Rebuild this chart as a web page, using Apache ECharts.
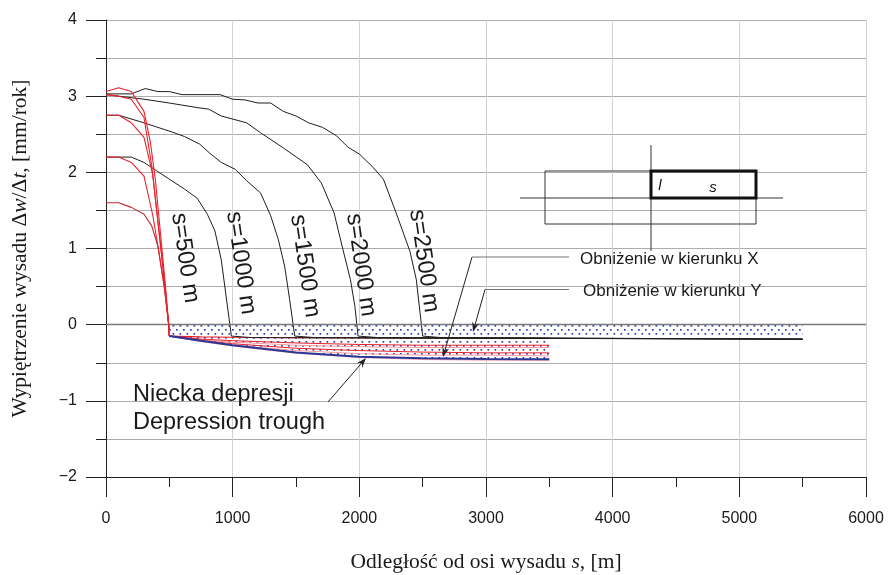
<!DOCTYPE html>
<html><head><meta charset="utf-8">
<script src="https://cdn.jsdelivr.net/npm/echarts@6/dist/echarts.min.js"></script>
<style>html,body{margin:0;padding:0;background:#fff}#main{width:889px;height:575px}</style>
</head><body><div id="main"></div>
<script>
// ---------------- data ----------------
const xTickValues = [0, 1000, 2000, 3000, 4000, 5000, 6000];
const yTickValues = [-2, -1, 0, 1, 2, 3, 4];
const curveLabels = ['s=500 m', 's=1000 m', 's=1500 m', 's=2000 m', 's=2500 m'];

// s = 500 m curves (red), x [m], uplift [mm/rok]
const red500a = [[0,3.06],[100,3.11],[200,3.06],[300,2.80],[350,2.40],[390,1.90],[430,1.20],[470,0.50],[495,0],[500,-0.15]];
const red500b = [[0,3.02],[100,3.00],[200,2.96],[300,2.72],[360,2.10],[400,1.50],[440,0.90],[495,0],[500,-0.15]];
const red500c = [[0,2.75],[100,2.75],[200,2.65],[300,2.46],[370,1.96],[420,1.20],[460,0.60],[495,0],[500,-0.15]];
const red500d = [[0,2.20],[100,2.20],[200,2.13],[300,1.95],[370,1.43],[410,1.03],[460,0.50],[495,0],[500,-0.15]];
const red500e = [[0,1.60],[100,1.60],[200,1.54],[300,1.45],[360,1.30],[410,1.03],[460,0.50],[495,0],[500,-0.15]];

// s = 1000 ... 2500 m curves (black)
const black1000 = [[0,2.20],[200,2.20],[300,2.13],[400,2.02],[500,1.91],[620,1.78],[720,1.66],[800,1.45],[860,1.23],[910,0.85],[950,0.35],[990,-0.15],[1150,-0.17],[5500,-0.19]];
const black1500 = [[0,2.75],[100,2.75],[300,2.65],[410,2.59],[520,2.53],[620,2.47],[740,2.37],[820,2.25],[910,2.13],[1020,2.04],[1110,1.89],[1220,1.73],[1300,1.43],[1360,1.12],[1410,0.77],[1450,0.33],[1490,-0.15],[1650,-0.17],[5500,-0.19]];
const black2000 = [[0,3.02],[300,2.96],[500,2.91],[720,2.85],[810,2.83],[910,2.74],[1110,2.65],[1220,2.52],[1400,2.32],[1590,2.10],[1700,1.86],[1800,1.47],[1870,0.99],[1930,0.59],[1965,0.24],[1990,-0.15],[2150,-0.17],[5500,-0.19]];
const black2500 = [[0,3.03],[200,3.03],[310,3.10],[410,3.06],[500,3.06],[600,3.02],[900,3.02],[1000,2.96],[1100,2.95],[1200,2.91],[1300,2.91],[1400,2.80],[1500,2.74],[1600,2.65],[1710,2.59],[1820,2.48],[1910,2.33],[2000,2.24],[2100,2.08],[2190,1.91],[2290,1.47],[2400,0.96],[2450,0.59],[2500,-0.15],[2650,-0.17],[5500,-0.19]];

// uplift band beyond the trough (dotted)
const bandX = [500, 5500];
const bandTop = 0;
const bandBottom = -0.16;

// depression trough fan (x values shared)
const fanX     = [500, 750, 1000, 1500, 2000, 2500, 3000, 3500];
const fanRed1  = [-0.15,-0.16,-0.165,-0.17,-0.17,-0.175,-0.175,-0.175];
const fanRed2  = [-0.15,-0.19,-0.21,-0.24,-0.26,-0.27,-0.27,-0.27];
const fanPink1 = [-0.15,-0.20,-0.23,-0.27,-0.29,-0.30,-0.30,-0.30];
const fanRed3  = [-0.15,-0.21,-0.25,-0.31,-0.34,-0.36,-0.37,-0.37];
const fanPink2 = [-0.15,-0.22,-0.27,-0.34,-0.38,-0.40,-0.40,-0.41];
const fanBlue  = [-0.15,-0.21,-0.27,-0.365,-0.42,-0.44,-0.45,-0.455];
const fanPink3 = [-0.15,-0.22,-0.28,-0.375,-0.43,-0.455,-0.465,-0.47];

// ---------------- chart ----------------
const zip = (xs, ys) => xs.map((x, i) => [x, ys[i]]);
function dotPattern() {
  const c = document.createElement('canvas');
  c.width = 7; c.height = 8;
  const g = c.getContext('2d');
  g.fillStyle = '#ffffff'; g.fillRect(0, 0, 7, 8);
  g.fillStyle = '#3040a8';
  g.fillRect(1, 1, 1.7, 1.7);
  g.fillRect(4.5, 5, 1.7, 1.7);
  return { image: c, repeat: 'repeat' };
}
const pattern = dotPattern();

const SANS = "'Liberation Sans', Arial, sans-serif";
const SERIF = "'Liberation Serif', 'Times New Roman', serif";

function lineSeries(name, data, color, width, z) {
  return { name, type: 'line', data, symbol: 'none', smooth: false, silent: true,
    lineStyle: { color, width }, z: z || 3, animation: false };
}

const chart = echarts.init(document.getElementById('main'), null, { renderer: 'canvas' });

function polygonSeries(upperPts, lowerPts, z) {
  return {
    type: 'custom', silent: true, z, animation: false, clip: true,
    data: [[upperPts[0][0], upperPts[0][1]]],
    encode: { x: 0, y: 1 },
    renderItem: (params, api) => {
      const pts = upperPts.concat(lowerPts.slice().reverse()).map(p => api.coord(p));
      return { type: 'polygon', shape: { points: pts }, style: { fill: pattern, stroke: null } };
    }
  };
}

const bandUpper = [[bandX[0], bandTop], [bandX[1], bandTop]];
const bandLower = [[bandX[0], bandBottom], [bandX[1], bandBottom]];

function arrow(x1, y1, x2, y2) {
  const a = Math.atan2(y2 - y1, x2 - x1);
  const L = 10, W = 3.6;
  const bx = x2 - L * Math.cos(a), by = y2 - L * Math.sin(a);
  const mx = x2 - 0.65 * L * Math.cos(a), my = y2 - 0.65 * L * Math.sin(a);
  const px = -Math.sin(a) * W, py = Math.cos(a) * W;
  return [
    { type: 'line', silent: true, z: 50, shape: { x1, y1, x2: mx, y2: my }, style: { stroke: '#222', lineWidth: 1 } },
    { type: 'polygon', silent: true, z: 50, shape: { points: [[x2, y2], [bx + px, by + py], [mx, my], [bx - px, by - py]] }, style: { fill: '#222' } }
  ];
}

const labelPos = [[185, 258], [241, 263], [305, 266], [361, 265], [424, 261]];
const graphics = [];
curveLabels.forEach((t, i) => {
  graphics.push({ type: 'text', x: labelPos[i][0], y: labelPos[i][1], rotation: -81.5 * Math.PI / 180, z: 60, silent: true,
    style: { text: t, font: '23.5px ' + SANS, fill: '#1a1a1a', align: 'center', verticalAlign: 'middle' } });
});
// inset diagram
graphics.push(
  { type: 'rect', z: 60, silent: true, shape: { x: 545, y: 171, width: 211, height: 53 }, style: { fill: null, stroke: '#333', lineWidth: 1 } },
  { type: 'line', z: 60, silent: true, shape: { x1: 520, y1: 198, x2: 783, y2: 198 }, style: { stroke: '#333', lineWidth: 1 } },
  { type: 'line', z: 60, silent: true, shape: { x1: 651, y1: 145, x2: 651, y2: 251 }, style: { stroke: '#333', lineWidth: 1 } },
  { type: 'rect', z: 61, silent: true, shape: { x: 651, y: 171, width: 105, height: 27 }, style: { fill: null, stroke: '#111', lineWidth: 3 } },
  { type: 'text', z: 61, silent: true, x: 660, y: 186, style: { text: 'l', font: 'italic 15px ' + SANS, fill: '#111', align: 'center', verticalAlign: 'middle' } },
  { type: 'text', z: 61, silent: true, x: 713, y: 188, style: { text: 's', font: 'italic 15px ' + SANS, fill: '#111', align: 'center', verticalAlign: 'middle' } }
);
// legends with leader lines
graphics.push(
  { type: 'line', z: 50, silent: true, shape: { x1: 472, y1: 257, x2: 569, y2: 257 }, style: { stroke: '#777', lineWidth: 1.2 } },
  { type: 'line', z: 50, silent: true, shape: { x1: 485, y1: 289.5, x2: 569, y2: 289.5 }, style: { stroke: '#777', lineWidth: 1.2 } },
  { type: 'text', z: 60, silent: true, x: 580, y: 259, style: { text: 'Obniżenie w kierunku X', font: '17px ' + SANS, fill: '#1a1a1a', align: 'left', verticalAlign: 'middle' } },
  { type: 'text', z: 60, silent: true, x: 583, y: 291, style: { text: 'Obniżenie w kierunku Y', font: '17px ' + SANS, fill: '#1a1a1a', align: 'left', verticalAlign: 'middle' } },
  { type: 'text', z: 60, silent: true, x: 133, y: 395, style: { text: 'Niecka depresji', font: '23.5px ' + SANS, fill: '#1a1a1a', align: 'left', verticalAlign: 'middle' } },
  { type: 'text', z: 60, silent: true, x: 133, y: 423, style: { text: 'Depression trough', font: '23.5px ' + SANS, fill: '#1a1a1a', align: 'left', verticalAlign: 'middle' } }
);
graphics.push(...arrow(472, 257, 443, 357));
graphics.push(...arrow(485, 289.5, 473, 332));
graphics.push(...arrow(328, 402, 366, 358));

const minus = v => String(v).replace('-', '\u2212');

const option = {
  animation: false,
  backgroundColor: '#ffffff',
  grid: { left: 106, right: 23, top: 20, bottom: 98, containLabel: false, outerBoundsMode: 'none' },
  xAxis: {
    type: 'value', min: xTickValues[0], max: xTickValues[xTickValues.length - 1], interval: 1000,
    name: '{a|Odległość od osi wysadu }{b|s}{a|, [m]}',
    nameLocation: 'middle', nameGap: 74,
    nameTextStyle: { rich: {
      a: { fontFamily: SERIF, fontSize: 21.5, color: '#1a1a1a' },
      b: { fontFamily: SERIF, fontSize: 21.5, fontStyle: 'italic', color: '#1a1a1a' } } },
    axisLine: { onZero: false, lineStyle: { color: '#222', width: 1 } },
    axisTick: { show: true, inside: false, length: 20, lineStyle: { color: '#222' } },
    minorTick: { show: true, splitNumber: 2, length: 10, lineStyle: { color: '#222' } },
    axisLabel: { fontFamily: SANS, fontSize: 16, color: '#1a1a1a', margin: 34, formatter: minus },
    splitLine: { show: true, lineStyle: { color: '#d2d2d2', width: 1 } },
    minorSplitLine: { show: false }
  },
  yAxis: {
    type: 'value', min: yTickValues[0], max: yTickValues[yTickValues.length - 1], interval: 1,
    name: '{a|Wypiętrzenie wysadu Δ}{b|w}{a|/Δ}{b|t}{a|, [mm/rok]}',
    nameLocation: 'middle', nameGap: 75, nameRotate: 90,
    nameTextStyle: { rich: {
      a: { fontFamily: SERIF, fontSize: 21.5, color: '#1a1a1a' },
      b: { fontFamily: SERIF, fontSize: 21.5, fontStyle: 'italic', color: '#1a1a1a' } } },
    axisLine: { show: true, lineStyle: { color: '#222', width: 1 } },
    axisTick: { show: true, inside: false, length: 20, lineStyle: { color: '#222' } },
    minorTick: { show: true, splitNumber: 2, length: 10, lineStyle: { color: '#222' } },
    axisLabel: { fontFamily: SANS, fontSize: 16, color: '#1a1a1a', margin: 29, formatter: minus },
    splitLine: { show: true, lineStyle: { color: '#adadad', width: 1 } },
    minorSplitLine: { show: true, lineStyle: { color: '#adadad', width: 1 } }
  },
  graphic: graphics,
  series: [
    Object.assign(polygonSeries(bandUpper, bandLower, 1), {
      markLine: { silent: true, symbol: 'none', label: { show: false }, animation: false,
        lineStyle: { color: '#7a7a7a', width: 1.4, type: 'solid' }, data: [{ yAxis: 0 }] }
    }),
    polygonSeries(zip(fanX, fanRed1), zip(fanX, fanBlue), 1),
    lineSeries('fanPink1', zip(fanX, fanPink1), '#f39aa2', 1, 2),
    lineSeries('fanPink2', zip(fanX, fanPink2), '#f39aa2', 1, 2),
    lineSeries('fanPink3', zip(fanX, fanPink3), '#f5a9b0', 1.2, 2),
    lineSeries('fanRed1', zip(fanX, fanRed1), '#e3202b', 1.2, 3),
    lineSeries('fanRed2', zip(fanX, fanRed2), '#e3202b', 1, 3),
    lineSeries('fanRed3', zip(fanX, fanRed3), '#e3202b', 1, 3),
    lineSeries('black1000', black1000, '#1e1e1e', 1, 4),
    lineSeries('black1500', black1500, '#1e1e1e', 1, 4),
    lineSeries('black2000', black2000, '#1e1e1e', 1, 4),
    lineSeries('black2500', black2500, '#1e1e1e', 1, 4),
    lineSeries('fanBlue', zip(fanX, fanBlue), '#2b3794', 2, 5),
    lineSeries('red500e', red500e, '#c1272d', 1.1, 5),
    lineSeries('red500d', red500d, '#e8232e', 1.1, 5),
    lineSeries('red500c', red500c, '#e8232e', 1.1, 5),
    lineSeries('red500b', red500b, '#e8232e', 1.1, 5),
    lineSeries('red500a', red500a, '#e8232e', 1.1, 5)
  ]
};
chart.setOption(option);
</script>
</body></html>
